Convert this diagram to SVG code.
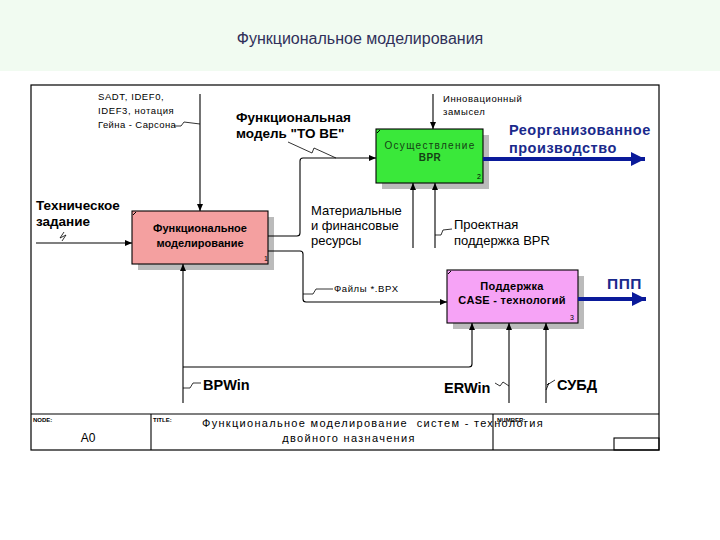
<svg xmlns="http://www.w3.org/2000/svg" width="720" height="540" viewBox="0 0 720 540">
<style>
text{font-family:"Liberation Sans",Arial,sans-serif;fill:#000}
.sm{font-size:9.5px;letter-spacing:0.6px}
.md{font-size:13px}
.bl{font-size:13.5px;font-weight:bold}
.bx{font-size:11px;font-weight:bold}
.num{font-size:7px}
.tiny{font-size:6px;font-weight:bold}
.big{font-size:14.5px;font-weight:bold}
.blue{fill:#1A2A8C;letter-spacing:0.5px}
.ln{fill:none;stroke:#000;stroke-width:1.1}
.sq{fill:none;stroke:#000;stroke-width:0.8}
.thick{fill:none;stroke:#0A1A9A;stroke-width:4}
.sh{fill:#BBBBBB}
.tl{font-size:11px;letter-spacing:1.3px;white-space:pre}
</style>
<defs>
<marker id="ah" markerWidth="8" markerHeight="8" refX="7" refY="4" orient="auto" markerUnits="userSpaceOnUse">
<path d="M0,1 L7,4 L0,7 Z" fill="#000"/>
</marker>
<marker id="bh" markerWidth="20" markerHeight="20" refX="14" refY="7" orient="auto" markerUnits="userSpaceOnUse">
<path d="M0,0 L14,7 L0,14 Z" fill="#0A1A9A"/>
</marker>
</defs>
<rect x="0" y="0" width="720" height="71" fill="#F1FBF1"/>
<text x="360" y="44" text-anchor="middle" style="font-size:16px;fill:#30305A">Функциональное моделирования</text>
<g id="frame">
<rect x="31" y="85" width="628" height="365" fill="#fff" stroke="#000" stroke-width="1.2"/>
<line x1="31" y1="414" x2="659" y2="414" stroke="#000" stroke-width="1.1"/>
<line x1="151" y1="414" x2="151" y2="450" stroke="#000" stroke-width="1.1"/>
<line x1="493" y1="414" x2="493" y2="450" stroke="#000" stroke-width="1.1"/>
<rect x="614" y="438" width="45" height="12" fill="none" stroke="#000" stroke-width="1.1"/>
<text x="33" y="422" class="tiny">NODE:</text>
<text x="88" y="442" text-anchor="middle" style="font-size:12px">A0</text>
<text x="153" y="422" class="tiny">TITLE:</text>
<text x="373" y="427" text-anchor="middle" class="tl">Функциональное моделирование  систем - технология</text>
<text x="349" y="442" text-anchor="middle" class="tl">двойного назначения</text>
<text x="497" y="422" class="tiny">NUMBER:</text>
</g>
<g id="box1">
<rect x="138" y="217" width="136" height="53" class="sh"/>
<rect x="132" y="211" width="136" height="53" fill="#F4A0A0" stroke="#000" stroke-width="1.1"/>
<line x1="133" y1="215" x2="136" y2="212" stroke="#000" stroke-width="1"/>
<text x="200" y="232" text-anchor="middle" class="bx">Функциональное</text>
<text x="200" y="247" text-anchor="middle" class="bx">моделирование</text>
<text x="264" y="261" class="num">1</text>
</g>
<g id="box2">
<rect x="382" y="135" width="107" height="54" class="sh"/>
<rect x="376" y="129" width="107" height="54" fill="#3AE83A" stroke="#000" stroke-width="1.1"/>
<line x1="377" y1="133" x2="380" y2="130" stroke="#000" stroke-width="1"/>
<text x="430" y="149" text-anchor="middle" style="font-size:10px;letter-spacing:1.3px;fill:#154015">Осуществление</text>
<text x="430" y="161" text-anchor="middle" style="font-size:10px;font-weight:bold;letter-spacing:0.5px;fill:#154015">BPR</text>
<text x="477" y="179" class="num">2</text>
</g>
<g id="box3">
<rect x="453" y="276" width="131" height="53" class="sh"/>
<rect x="447" y="270" width="131" height="53" fill="#F6A3F6" stroke="#000" stroke-width="1.1"/>
<line x1="448" y1="274" x2="451" y2="271" stroke="#000" stroke-width="1"/>
<text x="512" y="290" text-anchor="middle" class="bx" style="letter-spacing:0.3px">Поддержка</text>
<text x="512" y="304" text-anchor="middle" class="bx" style="letter-spacing:0.3px">CASE - технологий</text>
<text x="570" y="320" class="num">3</text>
</g>
<g id="connectors">
<path class="ln" d="M200,94 V211" marker-end="url(#ah)"/>
<path class="sq" d="M174,126 L181,126 L184,122 L200,124"/>
<path class="ln" d="M36,243 H132" marker-end="url(#ah)"/>
<path class="sq" d="M62,241 L66,235 L60,238 L64,232"/>
<path class="ln" d="M268,236 H297 Q300,236 300,233 V161 Q300,158 303,158 H376" marker-end="url(#ah)"/>
<path class="sq" d="M288,142 L312,153 L314,148 L336,158"/>
<path class="ln" d="M268,251 H300 Q303,251 303,254 V299 Q303,302 306,302 H447" marker-end="url(#ah)"/>
<path class="sq" d="M303,294 L313,294 L316,289 L333,289"/>
<path class="ln" d="M433,94 V129" marker-end="url(#ah)"/>
<path class="ln" d="M413,248 V183" marker-end="url(#ah)"/>
<path class="ln" d="M435,248 V183" marker-end="url(#ah)"/>
<path class="sq" d="M435,235 L441,235 L443,230 L452,229"/>
<path class="ln" d="M183,403 V264" marker-end="url(#ah)"/>
<path class="ln" d="M183,367 H469 Q472,367 472,364 V323" marker-end="url(#ah)"/>
<path class="sq" d="M183,388 L190,388 L193,383 L201,383"/>
<path class="ln" d="M509,403 V323" marker-end="url(#ah)"/>
<path class="sq" d="M495,383 L500,386 L503,382 L509,386"/>
<path class="ln" d="M546,403 V323" marker-end="url(#ah)"/>
<path class="sq" d="M546,390 L549,383 L547,385 L555,380"/>
<path class="thick" d="M483,159 H645" marker-end="url(#bh)"/>
<path class="thick" d="M578,299 H646" marker-end="url(#bh)"/>
</g>
<g id="labels">
<text x="98" y="100" class="sm">SADT, IDEF0,</text>
<text x="98" y="114" class="sm">IDEF3, нотация</text>
<text x="98" y="128" class="sm" style="letter-spacing:0.4px">Гейна - Сарсона</text>
<text x="236" y="122" class="bl">Функциональная</text>
<text x="236" y="138" class="bl">модель "TO BE"</text>
<text x="36" y="210" class="bl">Техническое</text>
<text x="36" y="226" class="bl">задание</text>
<text x="443" y="102" class="sm">Инновационный</text>
<text x="443" y="115" class="sm">замысел</text>
<text x="509" y="135" class="big blue">Реорганизованное</text>
<text x="509" y="153" class="big blue">производство</text>
<text x="311" y="215" class="md">Материальные</text>
<text x="311" y="230" class="md">и финансовые</text>
<text x="311" y="245" class="md">ресурсы</text>
<text x="454" y="229" class="md">Проектная</text>
<text x="454" y="245" class="md">поддержка BPR</text>
<text x="334" y="292" class="sm">Файлы *.BPX</text>
<text x="607" y="289" class="big blue" style="font-size:15.5px">ППП</text>
<text x="203" y="390" class="big">BPWin</text>
<text x="444" y="393" class="big">ERWin</text>
<text x="557" y="390" class="big">СУБД</text>
</g>
</svg>
